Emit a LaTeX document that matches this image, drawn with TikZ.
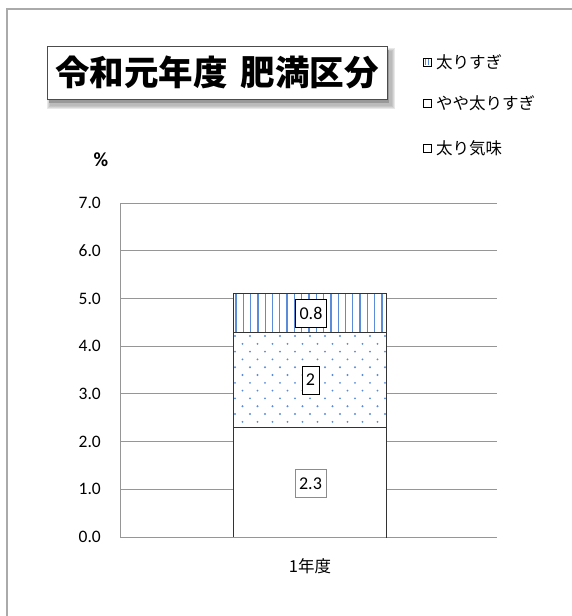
\documentclass[tikz,border=0pt]{standalone}
\usepackage{fontspec}
\setmainfont{Carlito}
\newfontfamily\jp{Noto Sans CJK JP}
\definecolor{framegray}{RGB}{170,170,170}
\definecolor{axisgray}{RGB}{150,150,150}
\definecolor{patblue}{RGB}{90,140,215}
\begin{document}
\begin{tikzpicture}[x=1pt,y=-1pt,
  ticklab/.style={anchor=east,font=\fontsize{17.5}{19}\selectfont,inner sep=0pt},
  vallab/.style={draw,fill=white,font=\fontsize{18}{20}\selectfont,inner sep=4pt,minimum height=28pt},
  legtext/.style={anchor=west,font=\jp\fontsize{16.5}{18}\selectfont,inner sep=0pt},
  legbox/.style={draw=black,line width=0.7pt,fill=white}]
\useasboundingbox (0,0) rectangle (571,616);
% outer frame
\draw[framegray,line width=1.2pt] (7,620) -- (7,9) -- (575,9);
% gridlines
\foreach \v in {1,...,7}{
  \draw[axisgray,line width=0.9pt] (120,{537-47.7*\v}) -- (497,{537-47.7*\v});
}
\draw[axisgray,line width=0.9pt] (120,203) -- (120,537) -- (497,537);
% tick labels
\foreach \v/\t in {0/0.0,1/1.0,2/2.0,3/3.0,4/4.0,5/5.0,6/6.0,7/7.0}{
  \node[ticklab] (t\v) at (101,{537-47.7*\v}) {\t};
}
\node[font=\bfseries\fontsize{20}{21}\selectfont] (pct) at (101,160) {\%};
% bar segments
\def\ya{537}\def\yb{427.3}\def\yc{332.0}\def\yd{293.7}
\fill[white] (233,\ya) rectangle (386,\yd);
% dots
\begin{scope}
\clip (233,\yb) rectangle (386,\yc);
\foreach \r in {0,...,12}{
  \pgfmathsetmacro{\off}{mod(\r,2)*7.5}
  \foreach \c in {0,...,11}{
    \fill[patblue] ({235+\off+15*\c},{336+7.8*\r}) circle (1.05);
  }
}
\end{scope}
% vertical stripes
\begin{scope}
\clip (233,\yc) rectangle (386,\yd);
\foreach \c in {0,...,21}{
  \draw[patblue,line width=1.3pt] ({236+7.3*\c},\yd) -- ({236+7.3*\c},\yc);
}
\end{scope}
\draw[black!80,line width=1pt] (233,\ya) rectangle (386,\yb);
\draw[black!80,line width=1pt] (233,\yb) rectangle (386,\yc);
\draw[black!80,line width=1pt] (233,\yc) rectangle (386,\yd);
\draw[axisgray,line width=0.9pt] (233,537) -- (386,537);
% value labels
\node[vallab] (v3) at (311,313) {0.8};
\node[vallab] (v2) at (310.5,380) {2};
\node[vallab,draw=black!45] (v1) at (310.5,483.5) {2.3};
% category
\node[font=\jp\fontsize{16.5}{18}\selectfont] (cat) at (310,566) {1年度};
% title with shadow
\foreach \k/\o in {1/0.06,2/0.07,3/0.08,4/0.09}{
  \fill[black,opacity=\o] ({47+4-\k},{46+6-\k}) rectangle ({387+4+\k},{99+6+\k});
}
\fill[black!40] (49,50) rectangle (389,103);
\node[draw=black!70,fill=white,line width=0.8pt,minimum width=340pt,minimum height=53pt,inner sep=0pt,font=\jp\bfseries\fontsize{34.5}{36}\selectfont] (title) at (217,72.5) {令和元年度\hspace{13pt}肥満区分};
% legend
\node[legbox,minimum size=8pt,inner sep=0pt] (l1) at (427,62) {};
\draw[patblue,line width=1.1pt] (425.5,59) -- (425.5,65) (428.5,59) -- (428.5,65);
\draw[black,line width=0.7pt] (423,58) rectangle (431,66);
\node[legtext] (lt1) at (436,62) {太りすぎ};
\node[legbox,minimum size=8pt,inner sep=0pt] (l2) at (427,103) {};
\node[legtext] (lt2) at (436,103) {やや太りすぎ};
\node[legbox,minimum size=8pt,inner sep=0pt] (l3) at (427,148) {};
\node[legtext] (lt3) at (436,148) {太り気味};
\end{tikzpicture}
\end{document}
